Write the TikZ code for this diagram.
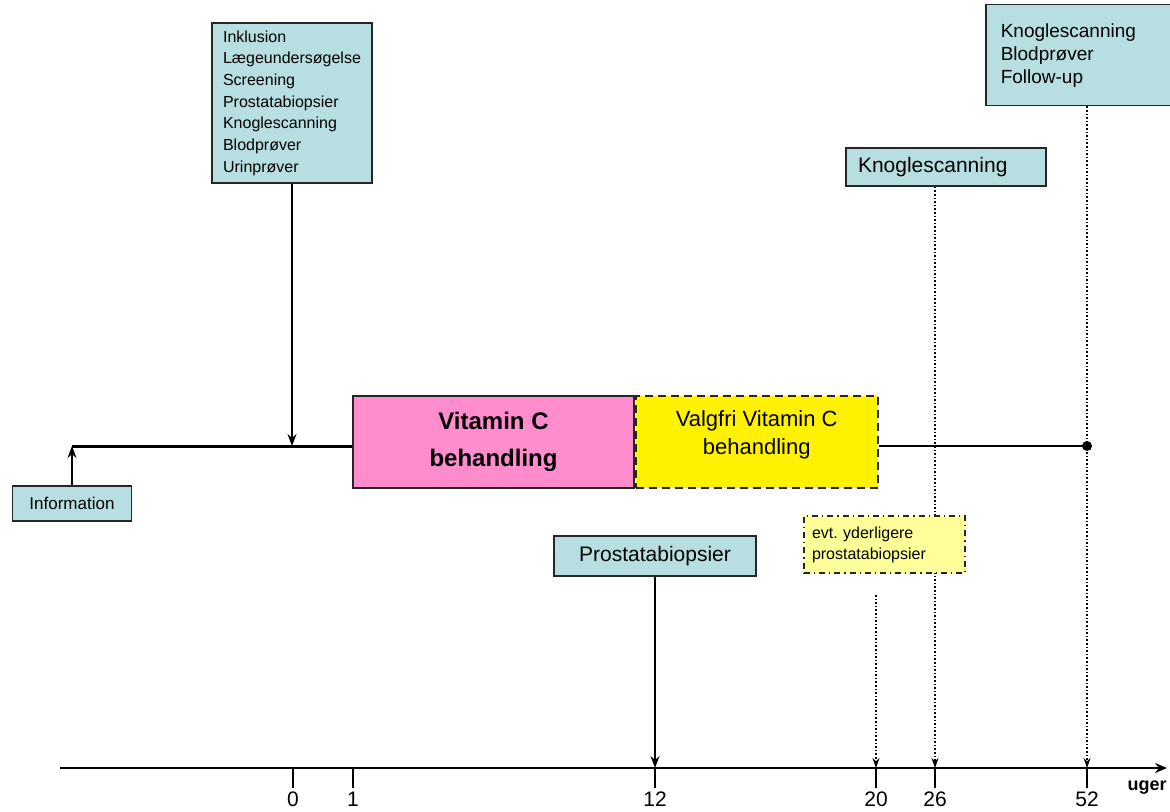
\documentclass[tikz,border=0pt]{standalone}
\usepackage{fontspec}
\setmainfont{Liberation Sans}
\usetikzlibrary{arrows,arrows.meta,positioning}
\definecolor{boxblue}{RGB}{183,222,225}
\definecolor{vitpink}{RGB}{255,140,205}
\definecolor{paleyellow}{RGB}{255,255,153}
\tikzset{
    infobox/.style={rectangle,draw=black!85,fill=boxblue,line width=0.75pt,inner sep=0pt},
    vitbox/.style={rectangle,draw=black!85,fill=vitpink,line width=0.6pt,inner sep=0pt,
        minimum width=140.5pt,minimum height=46pt,align=center,
        font=\bfseries\fontsize{12}{18.5}\selectfont},
    valgbox/.style={rectangle,draw=black!85,fill=yellow,line width=1.1pt,
        dash pattern=on 4pt off 2.5pt,inner sep=0pt,
        minimum width=121pt,minimum height=46pt},
    valgtext/.style={align=center,font=\fontsize{11}{14}\selectfont},
    evtbox/.style={rectangle,draw=black!85,fill=paleyellow,line width=0.6pt,dashdotted,
        inner xsep=4pt,inner ysep=0pt,text width=72.5pt,minimum height=28.5pt,align=left,
        font=\fontsize{8}{10.5}\selectfont},
    pre/.style={-{Stealth[length=6pt,width=4.5pt]},line width=0.75pt},
    dotpre/.style={-{Stealth[length=5pt,width=3.5pt]},line width=0.8pt,densely dotted},
    axis/.style={-{Stealth[length=6pt,width=5pt]},line width=1pt},
    tick/.style={line width=0.6pt},
    thickline/.style={line width=1.5pt},
    thinline/.style={line width=0.9pt}
}
\begin{document}
\begin{tikzpicture}[x=0.5pt,y=-0.5pt]
    \useasboundingbox (0,0) rectangle (1170,812);

    % time axis (weeks)
    \coordinate (ax start) at (60,768);
    \coordinate (ax end)   at (1167,768);
    \foreach \wk/\xpos in {0/293,1/353,12/655,20/876,26/935,52/1087}
        \coordinate (wk \wk) at (\xpos,768);
    \draw[axis] (ax start) -- (ax end);
    \foreach \wk in {0,1,12,20,26,52}
        \draw[tick] (wk \wk) -- ++(0,20) node[below,inner sep=1.5pt,font=\fontsize{10.5}{12}\selectfont] {\wk};
    \node[font=\bfseries\fontsize{9}{11}\selectfont] (uger) at (1147,788) {uger};

    % treatment line
    \node[infobox,minimum width=59.5pt,minimum height=17.5pt,font=\fontsize{8.5}{10}\selectfont]
        (info) at (72,503.5) {Information};
    \coordinate (tl start) at (72,446);
    \coordinate (tl end)   at (1087,446);
    \node[vitbox]  (vitc) at (493.5,442) {Vitamin C\\behandling};
    \node[valgbox] (valg) [right=0pt of vitc,
        label={[valgtext,yshift=3.5pt]center:Valgfri Vitamin C\\behandling}] {};
    \draw[thickline] (tl start) -- (vitc.west |- tl start);
    \draw[thinline] (valg.east |- tl end) -- (tl end);
    \fill (tl end) circle[radius=2.5pt];
    \draw[pre] (info) -- (tl start);

    % visits
    \node[infobox,minimum width=80pt,minimum height=80pt,align=left,font=\fontsize{8}{10.85}\selectfont]
        (inkl) at (292,103) {Inklusion\\Lægeundersøgelse\\Screening\\Prostatabiopsier\\Knoglescanning\\Blodprøver\\Urinprøver};
    \draw[pre] (inkl) -- (inkl |- tl start);

    \node[infobox,anchor=north west,inner xsep=7.5pt,text width=90pt,minimum height=50.5pt,align=left,
        font=\fontsize{9.5}{11.5}\selectfont]
        (follow) at (985,4) {Knoglescanning\\Blodprøver\\Follow-up};
    \draw[dotpre] (follow.south -| wk 52) -- (wk 52);

    \node[infobox,inner xsep=6pt,text width=88pt,minimum height=19pt,align=left,
        font=\fontsize{10.5}{12}\selectfont]
        (knog) at (946,167) {Knoglescanning};
    \draw[dotpre] (knog.south -| wk 26) -- (wk 26);

    \node[infobox,minimum width=101pt,minimum height=20pt,font=\fontsize{10.5}{12}\selectfont]
        (prost) at (655,556) {Prostatabiopsier};
    \draw[pre] (prost) -- (wk 12);

    \node[evtbox] (evt) at (884.5,544.5) {evt.\ yderligere\\prostatabiopsier};
    \coordinate (evt start) at (876,595);
    \draw[dotpre] (evt start) -- (wk 20);
\end{tikzpicture}
\end{document}
